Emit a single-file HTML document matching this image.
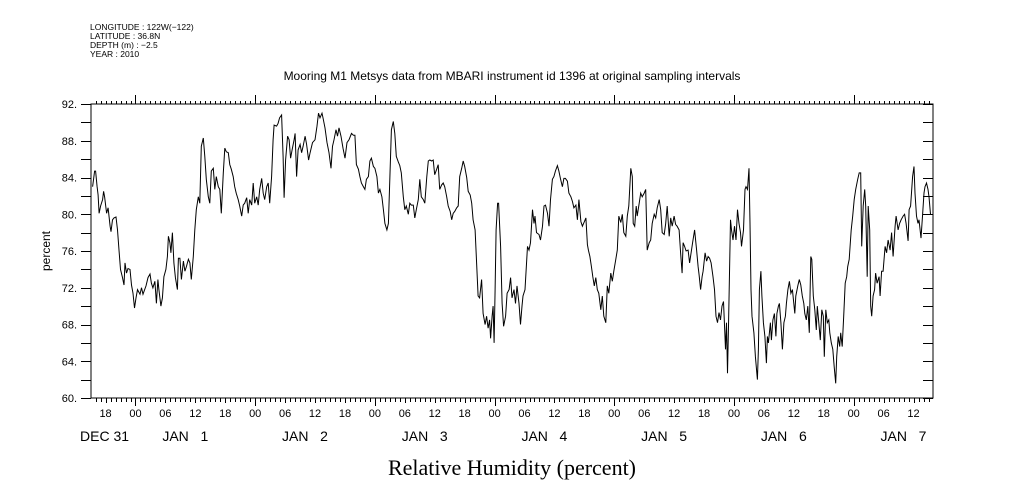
<!DOCTYPE html>
<html><head><meta charset="utf-8"><style>
body{margin:0;background:#fff;}
svg{display:block;font-family:"Liberation Sans",sans-serif;}
</style></head><body>
<svg id="chart" width="1009" height="504" viewBox="0 0 1009 504" xmlns="http://www.w3.org/2000/svg">
<g font-size="8.5" fill="#000">
<text x="90" y="30">LONGITUDE : 122W(−122)</text>
<text x="90" y="39">LATITUDE : 36.8N</text>
<text x="90" y="48">DEPTH (m) : −2.5</text>
<text x="90" y="57">YEAR : 2010</text>
</g>
<text x="512" y="80" text-anchor="middle" font-size="12">Mooring M1 Metsys data from MBARI instrument id 1396 at original sampling intervals</text>
<text transform="translate(50,251) rotate(-90)" text-anchor="middle" font-size="12">percent</text>
<text x="512" y="475" text-anchor="middle" font-size="22" font-family="Liberation Serif,serif">Relative Humidity (percent)</text>
<g id="axes"></g>
<g id="marks"></g>
</svg>
<script>
const hours=[15.4,15.8,16.0,16.3,16.5,16.7,17.0,17.4,17.6,17.8,18.2,18.5,18.9,19.1,19.4,19.7,20.1,20.4,20.7,21.0,21.4,21.7,21.9,22.2,22.5,22.9,23.2,23.5,23.8,24.1,24.4,24.9,25.2,25.5,26.1,26.5,26.9,27.2,27.5,27.9,28.2,28.5,28.7,29.1,29.4,29.7,30.1,30.4,30.6,30.9,31.1,31.4,31.7,32.0,32.4,32.6,32.9,33.2,33.6,33.9,34.2,34.6,34.9,35.2,35.6,35.9,36.2,36.6,36.9,37.2,37.6,37.9,38.2,38.6,38.9,39.2,39.6,39.9,40.2,40.6,40.9,41.2,41.6,41.9,42.2,42.6,42.9,43.2,43.6,43.9,44.2,44.6,44.9,45.3,45.6,45.9,46.3,46.6,46.9,47.3,47.6,47.9,48.3,48.6,48.9,49.3,49.6,49.9,50.3,50.6,50.9,51.3,51.6,51.8,52.3,52.6,52.9,53.3,53.6,53.8,54.1,54.5,54.8,55.1,55.4,55.8,56.0,56.3,56.6,57.0,57.3,57.6,58.0,58.3,58.7,59.0,59.5,60.0,60.4,60.7,61.0,61.4,61.6,62.0,62.4,62.8,63.2,63.5,63.8,64.2,64.5,64.8,65.2,65.6,66.0,66.4,66.8,67.3,67.7,68.0,68.3,68.7,69.0,69.3,69.7,70.0,70.3,70.7,71.0,71.3,71.7,72.0,72.4,72.7,73.0,73.4,73.7,74.0,74.4,74.7,75.0,75.3,75.7,76.0,76.3,76.7,77.0,77.3,77.7,78.0,78.3,78.7,79.0,79.3,79.7,80.0,80.3,80.7,81.0,81.3,81.7,82.0,82.4,82.7,83.0,83.4,83.7,84.0,84.4,84.7,85.0,85.4,85.7,86.0,86.4,86.7,87.1,87.4,87.7,88.0,88.4,88.7,89.0,89.4,89.7,90.0,90.4,90.7,91.1,91.4,91.7,92.1,92.4,92.7,93.0,93.4,93.7,94.1,94.4,94.7,95.0,95.2,95.5,95.7,95.9,96.1,96.3,96.6,96.8,97.2,97.5,97.8,98.2,98.5,98.9,99.2,99.5,99.9,100.2,100.5,100.9,101.2,101.5,101.7,102.1,102.6,102.9,103.2,103.6,103.9,104.1,104.4,104.9,105.2,105.6,105.9,106.2,106.6,106.9,107.2,107.6,107.9,108.2,108.6,108.9,109.2,109.6,109.9,110.2,110.6,110.9,111.3,111.6,111.9,112.3,112.6,112.9,113.3,113.6,114.0,114.3,114.6,114.8,115.1,115.4,115.7,116.0,116.3,116.6,116.9,117.3,117.6,117.9,118.3,118.6,118.9,119.3,119.6,119.9,120.3,120.6,120.9,121.3,121.6,121.9,122.3,122.6,122.9,123.3,123.6,123.8,124.1,124.4,124.6,125.0,125.3,125.6,126.0,126.3,126.6,127.0,127.3,127.6,128.0,128.3,128.6,129.0,129.3,129.6,130.0,130.3,130.6,131.0,131.3,131.6,132.0,132.3,132.6,133.0,133.3,133.6,133.8,134.1,134.4,134.8,135.1,135.4,135.7,136.1,136.5,136.8,137.0,137.3,137.6,137.8,138.2,138.5,138.8,139.1,139.4,139.8,140.1,140.4,140.7,141.0,141.3,141.6,141.9,142.3,142.5,142.7,142.9,143.3,143.5,143.8,144.1,144.4,144.7,145.0,145.3,145.5,145.9,146.2,146.4,146.7,147.0,147.2,147.4,147.6,148.0,148.3,148.7,148.9,149.1,149.4,149.6,149.9,150.2,150.5,150.7,150.9,151.3,151.5,151.8,152.1,152.4,152.6,152.9,153.1,153.4,153.7,154.0,154.3,154.5,154.8,155.1,155.4,155.7,156.0,156.2,156.4,156.8,157.1,157.4,157.7,158.0,158.2,158.5,158.8,159.1,159.4,159.6,159.9,160.2,160.5,160.7,161.0,161.3,161.6,161.9,162.1,162.4,162.7,163.0,163.2,163.5,163.8,164.1,164.4,164.6,164.9,165.2,165.4,165.7,166.0,166.3,166.6,166.8,167.1,167.5,167.8,168.1,168.4,168.8,169.1,169.4,169.6,169.9,170.2,170.4,170.7,170.9,171.2,171.4,171.6,171.9,172.2,172.4,172.7,173.1,173.3,173.6,173.9,174.3,174.6,174.9,175.3,175.6,175.9,176.3,176.5,176.9,177.2,177.5,177.9,178.2,178.5,178.9,179.1,179.4,179.8,180.1,180.3,180.6,180.9,181.1,181.5,181.8,182.1,182.3,182.6,182.9,183.1,183.4,183.6];
const humidity=[83.0,84.7,84.7,83,82.1,80.1,80.9,81.6,82.5,81.9,80.1,80.7,78.7,78.1,79.4,79.6,79.7,78.3,76.1,74.0,73.1,72.3,74.7,73.6,74.1,74.0,72.3,71.4,69.8,70.9,71.8,71.3,72.0,71.3,72.2,73.1,73.5,72.5,72.0,72.7,70.3,72.9,71.8,70.0,70.9,73.2,74.0,75.4,77.6,76.9,75.8,78.0,74.7,73.1,71.8,75.2,75.2,72.9,74.9,73.8,74.3,75.1,74.7,72.9,75.4,78.3,80.5,81.9,81.2,87.4,88.3,86.3,83.8,81.9,81.2,84.7,85.0,82.7,84.1,83.0,82.7,80.1,84.5,87.2,86.8,86.7,85.4,84.9,84.1,83.0,82.3,81.6,80.9,79.8,81.0,81.2,81.8,80.1,81.6,81.0,83.4,81.2,81.9,81.0,82.7,83.9,82.3,81.6,83.0,83.4,81.2,84.1,88.1,89.7,89.6,89.9,90.5,90.8,86.3,81.8,85.9,88.5,88.1,86.1,87.0,88.1,88.8,84.1,87.0,87.6,86.7,87.4,88.5,87.6,85.9,86.7,87.8,88.1,89.6,91.0,90.5,91.0,90.5,89.4,87.8,86.7,85.0,87.4,88.1,89.2,88.5,89.4,88.5,87.2,86.1,87.8,88.1,88.8,88.6,88.6,85.4,84.9,84.1,83.4,83.0,82.7,83.8,84.1,85.8,86.1,85.2,85.0,84.1,82.3,82.7,81.9,80.5,79.0,78.3,79.0,84.1,89.2,90.1,88.8,86.3,85.7,85.3,84.5,81.9,80.5,80.9,80.0,81.2,81.0,81.0,79.6,80.5,81.6,83.8,81.9,81.6,81.2,84.1,85.8,85.9,85.8,85.9,84.3,84.9,85.4,82.7,83.2,83.4,83.0,81.9,80.9,80.3,79.4,80.1,80.3,80.7,80.9,84.1,85.0,85.8,85.2,84.0,82.5,82.1,81.2,79.4,78.3,74.7,71.1,70.9,72.9,69.2,68.0,68.9,67.6,68.5,66.5,68.9,70.0,66.0,71.8,78.3,81.2,81.2,76.5,70.3,67.8,68.9,71.4,71.8,73.1,70.9,71.8,70.3,72.2,70.3,68.0,70.0,71.1,71.8,76.5,76.1,76.9,80.5,79.0,79.8,78.0,77.8,77.2,78.7,80.9,81.0,80.1,78.7,81.6,83.8,84.1,84.7,85.3,84.7,83.9,83.0,83.9,83.9,83.6,82.3,81.9,81.4,80.7,81.0,79.4,81.6,79.2,78.7,79.2,79.6,76.7,76.1,75.4,74.3,73.2,72.2,73.1,71.8,71.4,69.6,71.1,68.9,68.2,72.2,71.4,73.6,72.7,73.8,75.1,76.1,79.8,79.1,80.0,78.0,77.6,79.8,80.9,85.0,84.1,79.0,78.7,80.9,79.8,81.2,82.3,81.9,82.3,82.7,76.1,76.9,77.2,79.0,80.0,79.6,80.7,81.6,80.5,78.0,77.8,79.0,80.9,77.6,79.6,78.7,79.8,78.9,78.7,78.3,75.8,73.6,76.9,76.5,76.0,76.1,74.7,75.8,76.9,78.3,76.1,74.3,73.4,71.8,73.2,73.8,75.8,74.9,75.4,75.2,74.7,73.2,71.8,68.9,68.2,69.3,68.5,70.0,70.5,65.3,68.2,62.7,67.8,79.4,78.3,77.2,78.7,77.2,80.5,79.0,78.0,76.5,78.3,82.7,83.0,82.7,85.0,79.0,71.8,68.9,67.1,64.5,62.0,65.3,71.8,73.8,71.1,68.2,66.7,63.8,66.7,66.0,68.2,66.3,68.5,69.2,66.7,69.2,70.0,70.3,68.2,65.3,68.2,68.9,70.3,71.8,72.7,71.4,71.8,70.3,69.2,71.1,72.2,72.9,72.3,71.1,70.3,69.2,68.5,70.0,67.1,75.4,75.1,71.1,69.6,67.4,70.0,68.2,66.3,69.6,68.9,64.5,69.6,68.2,68.5,67.1,66.0,65.3,63.4,61.6,64.5,66.7,65.6,67.1,65.6,68.9,72.5,73.2,74.3,75.1,78.3,79.8,81.6,82.7,83.8,84.5,84.5,76.5,80.9,82.7,80.9,73.2,80.9,78.3,70.0,68.9,71.1,71.8,73.6,72.5,73.2,71.1,73.8,73.8,76.5,75.8,77.2,76.1,78.0,75.4,78.7,79.8,78.3,79.0,79.4,79.8,80.0,79.0,77.1,80.5,80.9,84.1,85.2,82.3,79.8,79.0,79.4,77.4,79.8,82.3,83.0,83.4,82.7,81.9,80.0];
const yTickValues=[60,64,68,72,76,80,84,88,92];
const xTickLabels=["18","00","06","12"];
const dayLabels=["DEC 31","JAN   1","JAN   2","JAN   3","JAN   4","JAN   5","JAN   6","JAN   7"];

const NS="http://www.w3.org/2000/svg";
const X0=91,X1=933,Y0=104,Y1=398,H0=15.08,H1=183.9,V0=60,V1=92;
const xs=h=>X0+(h-H0)/(H1-H0)*(X1-X0);
const ys=v=>Y1-(v-V0)/(V1-V0)*(Y1-Y0);
const axes=document.getElementById('axes'),marks=document.getElementById('marks');
function mk(tag,attrs,parent){const e=document.createElementNS(NS,tag);for(const k in attrs)e.setAttribute(k,attrs[k]);parent.appendChild(e);return e;}

const frame=mk('rect',{x:X0,y:Y0,width:X1-X0,height:Y1-Y0,fill:'none',stroke:'#000','stroke-width':1},axes);



let d='';
for(let h=Math.ceil(H0);h<=H1;h++){
  const x=Math.round(xs(h))+0.5;const day=h%24===0;
  d+=`M${x} ${Y0}V${Y0-(day?9:3)}M${x} ${Y1}V${Y1+(day?8:(h%6===0?5:4))}`;
}
for(let v=V0;v<=V1;v+=2){
  const y=Math.round(ys(v))+0.5;
  d+=`M${X0} ${y}H${X0-10}M${X1} ${y}H${X1-10}`;
}
const ticks=mk('path',{d:d,stroke:'#000','stroke-width':1,fill:'none'},axes);



yTickValues.forEach(v=>{
  const t=mk('text',{x:X0-14,y:ys(v)+4,'text-anchor':'end','font-size':11},axes);
  
  
  t.textContent=v.toFixed(0)+'.';
});
for(let h=18;h<=H1;h+=6){
  const t=mk('text',{x:xs(h),y:417,'text-anchor':'middle','font-size':11},axes);
  
  
  t.textContent=xTickLabels[((h-18)/6)%4];
}
dayLabels.forEach((lab,i)=>{
  const x=i===0?80:xs(24*i+12)-33;
  const t=mk('text',{x:x,y:441,'font-size':14,'xml:space':'preserve'},axes);
  
  
  t.style.whiteSpace='pre';
  t.textContent=lab;
});

let p='';
hours.forEach((h,i)=>{p+=(i?'L':'M')+xs(h).toFixed(1)+' '+ys(humidity[i]).toFixed(1);});
const line=mk('path',{d:p,fill:'none',stroke:'#000','stroke-width':1},marks);


</script>
</body></html>
